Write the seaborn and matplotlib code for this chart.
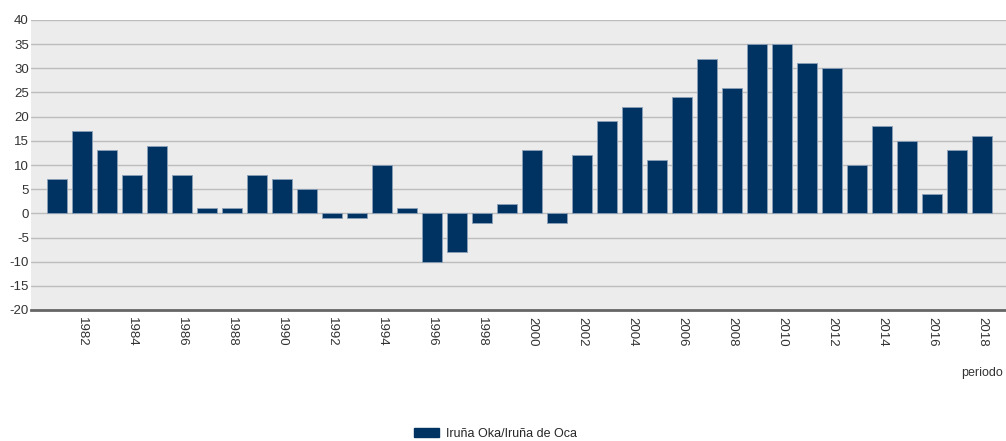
import matplotlib
matplotlib.use('Agg')
import matplotlib.pyplot as plt
import matplotlib.patches as mpatches
import seaborn as sns
import pandas as pd

years = list(range(1981, 2019))
values = [7, 17, 13, 8, 14, 8, 1, 1, 8, 7, 5, -1, -1, 10, 1, -10, -8, -2, 2, 13,
          -2, 12, 19, 22, 11, 24, 32, 26, 35, 35, 31, 30, 10, 18, 15, 4, 13, 16]
series_name = 'Iruña Oka/Iruña de Oca'
y_ticks = list(range(-20, 45, 5))

bar_color = '#003361'

sns.set_theme(style='white')
plt.rcParams['font.family'] = ['Liberation Sans', 'DejaVu Sans']

df = pd.DataFrame({'periodo': [str(y) for y in years], 'valor': values})

fig = plt.figure(figsize=(10.06, 4.41), dpi=100)
ax = fig.add_axes([31 / 1006, 131 / 441, 975 / 1006, 290 / 441])
ax.set_facecolor('#ececec')

sns.barplot(data=df, x='periodo', y='valor', color=bar_color, width=0.78,
            edgecolor='#8aa0b8', linewidth=0.6, saturation=1, ax=ax, zorder=3)

ax.set_xlim(-1.04, 37.96)
ax.set_ylim(-20, 40)
ax.set_yticks(y_ticks)
ax.set_yticklabels([str(t) for t in y_ticks], fontsize=9.5, color='#333333')
ax.yaxis.grid(True, color='#bdbdbd', linewidth=1, zorder=0)
ax.set_axisbelow(True)

# only even years get a label
even_idx = [i for i, y in enumerate(years) if y % 2 == 0]
ax.set_xticks(even_idx)
ax.set_xticklabels([str(years[i]) for i in even_idx], rotation=-90,
                   fontsize=9.5, color='#333333')
ax.tick_params(axis='y', length=0, pad=1.5)
ax.tick_params(axis='x', length=0, pad=5)

for side in ['top', 'right', 'left']:
    ax.spines[side].set_visible(False)
ax.spines['bottom'].set_color('#666666')
ax.spines['bottom'].set_linewidth(2)

ax.set_xlabel('')
ax.set_ylabel('')
fig.text(1003 / 1006, (441 - 373) / 441, 'periodo', ha='right', va='center',
         fontsize=9, color='#333333')

handle = mpatches.Patch(color=bar_color, label=series_name)
fig.legend(handles=[handle], loc='center', bbox_to_anchor=(0.4925, (441 - 434) / 441),
           frameon=False, fontsize=9, handlelength=2.0, handleheight=0.72,
           handletextpad=0.5, borderpad=0, borderaxespad=0)

fig.savefig('out.png', dpi=100)
